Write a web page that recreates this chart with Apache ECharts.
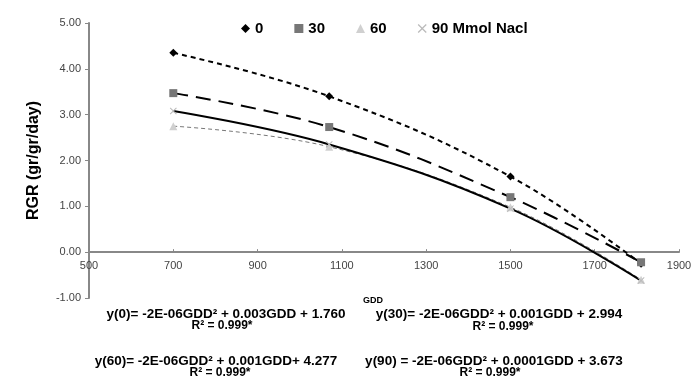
<!DOCTYPE html>
<html>
<head>
<meta charset="utf-8">
<script src="https://cdn.jsdelivr.net/npm/echarts@6/dist/echarts.min.js"></script>
<style>
  html, body { margin: 0; padding: 0; background: #fff; }
  #main { width: 699px; height: 392px; }
</style>
</head>
<body>
<div id="main"></div>
<script>
// GDD values and RGR per salinity level
let gdd = [700, 1070, 1500, 1810]
let rgr0 = [4.35, 3.40, 1.65, -0.25]
let rgr30 = [3.47, 2.73, 1.20, -0.22]
let rgr60 = [2.75, 2.30, 0.98, -0.60]
let rgr90 = [3.08, 2.35, 0.95, -0.62]
let seriesNames = ['0', '30', '60', '90 Mmol Nacl']
let equations = [
  'y(0)= -2E-06GDD² + 0.003GDD + 1.760',
  'y(30)= -2E-06GDD² + 0.001GDD + 2.994',
  'y(60)= -2E-06GDD² + 0.001GDD+ 4.277',
  'y(90) = -2E-06GDD² + 0.0001GDD + 3.673'
]
let r2Text = 'R² = 0.999*'

const crossPath = 'path://M0,1L1,0L5,4L9,0L10,1L6,5L10,9L9,10L5,6L1,10L0,9L4,5Z'

const gridTop = 23
const gridBottom = 94
const yMin = -1
const yMax = 5

function pairs(ys) {
  return gdd.map((x, i) => [x, ys[i]])
}

let chart = echarts.init(document.getElementById('main'))

// x axis sits on y = 0, like the excel chart
let plotH = 392 - gridTop - gridBottom
let zeroOffset = -plotH * (0 - yMin) / (yMax - yMin)

let eqPos = [[226, 314], [499, 314], [216, 361], [494, 361]]
let r2Pos = [[222, 326], [503, 327], [220, 373], [490, 373]]
let graphics = []
equations.forEach((t, i) => {
  graphics.push({
    type: 'text', x: eqPos[i][0], y: eqPos[i][1],
    style: { text: t, font: 'bold 13.5px Arial', fill: '#000', textAlign: 'center', textVerticalAlign: 'middle' }
  })
  graphics.push({
    type: 'text', x: r2Pos[i][0], y: r2Pos[i][1],
    style: { text: r2Text, font: 'bold 12px Arial', fill: '#000', textAlign: 'center', textVerticalAlign: 'middle' }
  })
})
graphics.push({
  type: 'text', x: 373, y: 301,
  style: { text: 'GDD', font: 'bold 9px Arial', fill: '#000', textAlign: 'center', textVerticalAlign: 'middle' }
})

let option = {
  animation: false,
  grid: { left: 89, right: 20, top: gridTop, bottom: gridBottom },
  legend: {
    top: 16,
    left: 236,
    itemGap: 31,
    itemWidth: 9,
    itemHeight: 9,
    textStyle: { fontFamily: 'Arial', fontWeight: 'bold', fontSize: 15, color: '#000' },
    data: [
      { name: seriesNames[0], icon: 'diamond' },
      { name: seriesNames[1], icon: 'rect' },
      { name: seriesNames[2], icon: 'triangle' },
      { name: seriesNames[3], icon: crossPath }
    ]
  },
  xAxis: {
    type: 'value',
    min: 500,
    max: 1900,
    interval: 200,
    position: 'bottom',
    offset: zeroOffset,
    splitLine: { show: false },
    axisLine: { onZero: false, lineStyle: { color: '#888', width: 2 } },
    axisTick: { show: true, inside: true, length: 3, lineStyle: { color: '#888' } },
    axisLabel: { color: '#444', fontFamily: 'Arial', fontSize: 11, margin: 8, formatter: v => String(v) }
  },
  yAxis: {
    type: 'value',
    min: yMin,
    max: yMax,
    interval: 1,
    name: 'RGR (gr/gr/day)',
    nameLocation: 'middle',
    nameGap: 47,
    nameTextStyle: { fontFamily: 'Arial', fontWeight: 'bold', fontSize: 16, color: '#000' },
    splitLine: { show: false },
    axisLine: { show: true, lineStyle: { color: '#888', width: 2 } },
    axisTick: { show: true, length: 4, lineStyle: { color: '#888' } },
    axisLabel: { color: '#444', fontFamily: 'Arial', fontSize: 11, margin: 8, formatter: v => v.toFixed(2) }
  },
  series: [
    {
      name: seriesNames[0], type: 'line', data: pairs(rgr0), smooth: 0.4,
      symbol: 'diamond', symbolSize: 8,
      itemStyle: { color: '#000' },
      lineStyle: { color: '#000', width: 2, type: [5, 4] }
    },
    {
      name: seriesNames[1], type: 'line', data: pairs(rgr30), smooth: 0.4,
      symbol: 'rect', symbolSize: 8,
      itemStyle: { color: '#777' },
      lineStyle: { color: '#000', width: 2, type: [15, 8] }
    },
    {
      name: seriesNames[2], type: 'line', data: pairs(rgr60), smooth: 0.4,
      symbol: 'triangle', symbolSize: 8,
      itemStyle: { color: '#d0d0d0' },
      lineStyle: { color: '#777', width: 1, type: [4, 3] }
    },
    {
      name: seriesNames[3], type: 'line', data: pairs(rgr90), smooth: 0.4,
      symbol: crossPath, symbolSize: 7,
      itemStyle: { color: '#bbb' },
      lineStyle: { color: '#000', width: 2 }
    }
  ],
  graphic: graphics
}

chart.setOption(option)
</script>
</body>
</html>
